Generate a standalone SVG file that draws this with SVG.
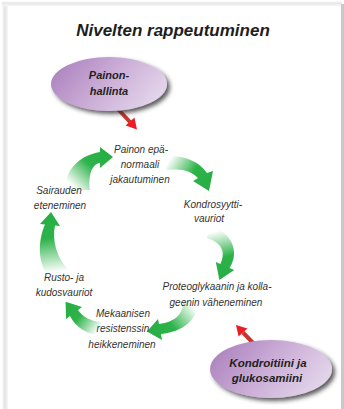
<svg xmlns="http://www.w3.org/2000/svg" width="344" height="409" viewBox="0 0 344 409">
<defs>
<style>
.title{font-family:"Liberation Sans",Arial,sans-serif;font-weight:bold;font-style:italic;font-size:17px;fill:#1e1e1e;text-anchor:middle}
.lbl{font-family:"Liberation Sans",Arial,sans-serif;font-style:italic;font-size:10px;fill:#333;text-anchor:middle}
.node{font-family:"Liberation Sans",Arial,sans-serif;font-weight:bold;font-style:italic;fill:#231f20;text-anchor:middle}
.red-shaft{stroke:#c7362b;stroke-width:4;fill:none}
.red-head{fill:#ee1c24}
</style>
<linearGradient id="shadowL" x1="0" y1="0" x2="1" y2="0">
<stop offset="0" stop-color="#ffffff"/>
<stop offset="0.4" stop-color="#e4e4e4"/>
<stop offset="1" stop-color="#f6f6f6"/>
</linearGradient>
<linearGradient id="shadowT" x1="0" y1="0" x2="0" y2="1">
<stop offset="0" stop-color="#ffffff"/>
<stop offset="0.4" stop-color="#e6e6e6"/>
<stop offset="1" stop-color="#f6f6f6"/>
</linearGradient>
<linearGradient id="purple" x1="0" y1="0.3" x2="1" y2="0.7">
<stop offset="0" stop-color="#ad84bf"/>
<stop offset="0.5" stop-color="#cdb0d8"/>
<stop offset="1" stop-color="#e4d8ec"/>
</linearGradient>
<filter id="drop" x="-20%" y="-30%" width="150%" height="170%">
<feDropShadow dx="3" dy="3" stdDeviation="2.2" flood-color="#2a2a2a" flood-opacity="0.75"/>
</filter>
<linearGradient id="g1" gradientUnits="userSpaceOnUse" x1="76" y1="190" x2="108" y2="157">
<stop offset="0" stop-color="#2db34a" stop-opacity="0"/>
<stop offset="0.6" stop-color="#2db34a"/>
<stop offset="1" stop-color="#27ae45"/>
</linearGradient>
<linearGradient id="g2" gradientUnits="userSpaceOnUse" x1="168" y1="162" x2="206" y2="186">
<stop offset="0" stop-color="#2db34a" stop-opacity="0"/>
<stop offset="0.6" stop-color="#2db34a"/>
<stop offset="1" stop-color="#27ae45"/>
</linearGradient>
<linearGradient id="g3" gradientUnits="userSpaceOnUse" x1="212" y1="232" x2="222" y2="276">
<stop offset="0" stop-color="#2db34a" stop-opacity="0"/>
<stop offset="0.6" stop-color="#2db34a"/>
<stop offset="1" stop-color="#27ae45"/>
</linearGradient>
<linearGradient id="g4" gradientUnits="userSpaceOnUse" x1="190" y1="302" x2="152" y2="331">
<stop offset="0" stop-color="#2db34a" stop-opacity="0"/>
<stop offset="0.6" stop-color="#2db34a"/>
<stop offset="1" stop-color="#27ae45"/>
</linearGradient>
<linearGradient id="g5" gradientUnits="userSpaceOnUse" x1="100" y1="328" x2="68" y2="305">
<stop offset="0" stop-color="#2db34a" stop-opacity="0"/>
<stop offset="0.6" stop-color="#2db34a"/>
<stop offset="1" stop-color="#27ae45"/>
</linearGradient>
<linearGradient id="g6" gradientUnits="userSpaceOnUse" x1="58" y1="272" x2="50" y2="215">
<stop offset="0" stop-color="#2db34a" stop-opacity="0"/>
<stop offset="0.6" stop-color="#2db34a"/>
<stop offset="1" stop-color="#27ae45"/>
</linearGradient>
</defs>

<rect x="0" y="0" width="344" height="409" fill="#ffffff"/>
<rect x="2" y="1" width="6" height="408" fill="url(#shadowL)"/>
<rect x="2" y="1" width="340" height="5" fill="url(#shadowT)"/>
<rect x="8" y="6" width="333" height="403" fill="#ffffff"/>
<rect x="341" y="4" width="3" height="405" fill="#c9c9c9"/>

<text class="title" x="173" y="36">Nivelten rappeutuminen</text>

<g id="connectors">
<path d="M 64 190 C 66 170, 78 156, 100 152 L 100 147 L 113 157 L 100 168 L 100 163 C 92 164, 88 175, 90 190 Z" fill="url(#g1)"/>
<path d="M 166 156 C 184 155, 199 161, 207 173 L 213 171 L 209 191 L 193 181 L 198 178 C 192 171, 181 168, 166 170 Z" fill="url(#g2)"/>
<path d="M 210 226 C 232 232, 240 252, 229.6 268 L 234.2 270 L 219.4 280 L 215.8 262 L 220.4 264 C 226 252, 222 243, 207 238 Z" fill="url(#g3)"/>
<path d="M 198 300 C 199 320, 182 332, 161 334 L 162 340 L 147 331.6 L 158 319 L 159 324 C 175 322, 184 314, 183 300 Z" fill="url(#g4)"/>
<path d="M 101 335 C 88 335, 76 328, 70 316 L 66 319 L 65.6 301.8 L 82 307 L 78 310 C 83 317, 90 321, 101 322 Z" fill="url(#g5)"/>
<path d="M 46 273 C 37 258, 39 238, 45 224.5 L 40 224 L 51 212 L 60 226 L 55 225.5 C 52 240, 56 258, 70 271 Z" fill="url(#g6)"/>
<line class="red-shaft" x1="117" y1="108" x2="130" y2="122"/>
<polygon class="red-head" points="134.4,117.5 137,129.5 125.6,125.5"/>
<line class="red-shaft" x1="254" y1="344" x2="243" y2="332.5"/>
<polygon class="red-head" points="247.4,328.4 236,325 238.6,336.6"/>
</g>

<g id="painonhallinta">
<ellipse cx="109" cy="84" rx="58" ry="27" fill="url(#purple)" filter="url(#drop)"/>
<text class="node" x="109" y="79" font-size="11">Painon-</text>
<text class="node" x="109" y="95" font-size="11">hallinta</text>
</g>

<g id="kondroitiini">
<ellipse cx="271" cy="369" rx="61" ry="29" fill="url(#purple)" filter="url(#drop)"/>
<text class="node" x="268" y="367" font-size="11.5">Kondroitiini ja</text>
<text class="node" x="267" y="382" font-size="11.5">glukosamiini</text>
</g>

<g id="painon-epanormaali">
<text class="lbl" x="141" y="153">Painon epä-</text>
<text class="lbl" x="140" y="168">normaali</text>
<text class="lbl" x="140" y="183">jakautuminen</text>
</g>

<g id="kondrosyyttivauriot">
<text class="lbl" x="213" y="208">Kondrosyytti-</text>
<text class="lbl" x="209" y="222">vauriot</text>
</g>

<g id="proteoglykaani">
<text class="lbl" x="217" y="290">Proteoglykaanin ja kolla-</text>
<text class="lbl" x="216" y="306">geenin väheneminen</text>
</g>

<g id="mekaaninen">
<text class="lbl" x="123" y="317">Mekaanisen</text>
<text class="lbl" x="123" y="332">resistenssin</text>
<text class="lbl" x="122" y="348">heikkeneminen</text>
</g>

<g id="rusto">
<text class="lbl" x="64" y="281">Rusto- ja</text>
<text class="lbl" x="64" y="296">kudosvauriot</text>
</g>

<g id="sairauden">
<text class="lbl" x="59" y="194">Sairauden</text>
<text class="lbl" x="60" y="209">eteneminen</text>
</g>
</svg>
